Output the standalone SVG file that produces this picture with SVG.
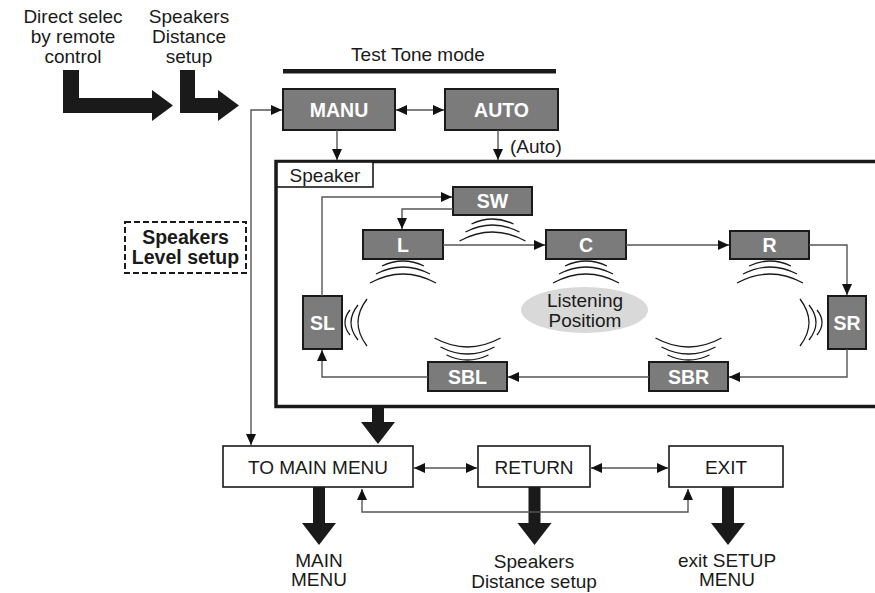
<svg xmlns="http://www.w3.org/2000/svg" width="875" height="593" viewBox="0 0 875 593">
<defs>
<marker id="ah" markerUnits="userSpaceOnUse" markerWidth="12" markerHeight="12" viewBox="0 0 12 12" refX="11" refY="6" orient="auto-start-reverse">
<path d="M0,1 L11,6 L0,11 Z" fill="#111"/>
</marker>
<style>
text{font-family:"Liberation Sans",Arial,sans-serif;fill:#1a1a1a}
.t{font-size:19px;text-anchor:middle}
.b{font-size:19.5px;font-weight:bold;text-anchor:middle}
.w{fill:#fff}
.g{fill:#7b7b7b;stroke:#1a1a1a;stroke-width:2}
.box{fill:#fff;stroke:#1a1a1a;stroke-width:1.6}
.ln{fill:none;stroke:#555;stroke-width:1.4}
.wv{fill:none;stroke:#1a1a1a;stroke-width:1.3}
.thick{fill:#1a1a1a}
</style>
</defs>

<!-- top labels -->
<g id="direct-select">
<text class="t" x="73" y="23">Direct selec</text>
<text class="t" x="73" y="43">by remote</text>
<text class="t" x="73" y="63">control</text>
</g>
<g id="speakers-distance-top">
<text class="t" x="189" y="23">Speakers</text>
<text class="t" x="189" y="43">Distance</text>
<text class="t" x="189" y="63">setup</text>
</g>
<g id="test-tone-mode">
<text class="t" x="418" y="61">Test Tone mode</text>
<rect x="283" y="69" width="273" height="4.5" fill="#1a1a1a"/>
</g>

<g id="manu"><rect class="g" x="283" y="89" width="112" height="41"/><text class="b w" x="339" y="116.5">MANU</text></g>
<g id="auto"><rect class="g" x="445" y="89" width="113" height="41"/><text class="b w" x="501.5" y="116.5">AUTO</text></g>
<g id="auto-label"><text style="font-size:19px" x="510" y="153">(Auto)</text></g>

<g id="speaker-frame">
<rect x="276" y="161.5" width="620" height="245" fill="none" stroke="#1a1a1a" stroke-width="3.5"/>
<rect class="box" x="277" y="162" width="96" height="25"/>
<text style="font-size:19px" x="325" y="182" text-anchor="middle">Speaker</text>
</g>

<g id="sw"><rect class="g" x="453" y="187" width="79" height="28"/><text class="b w" x="492.5" y="208">SW</text></g>
<g id="l"><rect class="g" x="363" y="230" width="80" height="29"/><text class="b w" x="403" y="251.5">L</text></g>
<g id="c"><rect class="g" x="546" y="230" width="80" height="29"/><text class="b w" x="586" y="251.5">C</text></g>
<g id="r"><rect class="g" x="730" y="231" width="79" height="28"/><text class="b w" x="769.5" y="251.5">R</text></g>
<g id="sl"><rect class="g" x="303" y="296" width="39" height="53"/><text class="b w" x="322.5" y="329.5">SL</text></g>
<g id="sr"><rect class="g" x="828" y="296" width="38" height="53"/><text class="b w" x="847" y="329.5">SR</text></g>
<g id="sbl"><rect class="g" x="428" y="362" width="79" height="29"/><text class="b w" x="467.5" y="383.5">SBL</text></g>
<g id="sbr"><rect class="g" x="649" y="362" width="79" height="29"/><text class="b w" x="688.5" y="383.5">SBR</text></g>

<g id="listening-position">
<ellipse cx="584.5" cy="310" rx="63.5" ry="23" fill="#d9d9d9"/>
<text class="t" x="585" y="307">Listening</text>
<text class="t" x="585" y="327">Positiom</text>
</g>

<g id="waves">
<!-- under SW -->
<path class="wv" d="M471.5,224 Q492.5,214 513.5,224 M465.5,232 Q492.5,218 519.5,232 M459.5,241 Q492.5,223 525.5,241"/>
<!-- under L -->
<path class="wv" d="M382,266 Q403,256 424,266 M376,274 Q403,260 430,274 M370,283 Q403,265 436,283"/>
<!-- under C -->
<path class="wv" d="M565,266 Q586,256 607,266 M559,274 Q586,260 613,274 M553,283 Q586,265 619,283"/>
<!-- under R -->
<path class="wv" d="M749,266 Q770,256 791,266 M743,274 Q770,260 797,274 M737,283 Q770,265 803,283"/>
<!-- above SBL -->
<path class="wv" d="M446.5,355 Q467.5,365 488.5,355 M440.5,347 Q467.5,361 494.5,347 M434.5,338 Q467.5,356 500.5,338"/>
<!-- above SBR -->
<path class="wv" d="M667.5,355 Q688.5,365 709.5,355 M661.5,347 Q688.5,361 715.5,347 M655.5,338 Q688.5,356 721.5,338"/>
<!-- right of SL -->
<path class="wv" d="M350,310 Q340,322.5 350,335 M358,305 Q344,322.5 358,340 M367,299 Q349,322.5 367,346"/>
<!-- left of SR -->
<path class="wv" d="M817,310 Q827,322.5 817,335 M809,305 Q823,322.5 809,340 M800,299 Q818,322.5 800,346"/>
</g>

<g id="speakers-level-setup">
<rect x="125" y="222" width="121" height="51" fill="none" stroke="#1a1a1a" stroke-width="2" stroke-dasharray="6,3"/>
<text class="b" x="185.5" y="244">Speakers</text>
<text class="b" x="185.5" y="264">Level setup</text>
</g>

<g id="to-main-menu"><rect class="box" x="223" y="446" width="190" height="41"/><text class="t" x="318" y="474">TO MAIN MENU</text></g>
<g id="return"><rect class="box" x="478" y="446" width="112" height="41"/><text class="t" x="534" y="474">RETURN</text></g>
<g id="exit"><rect class="box" x="669" y="446" width="114" height="41"/><text class="t" x="726" y="474">EXIT</text></g>

<g id="main-menu-label"><text class="t" x="319" y="567">MAIN</text><text class="t" x="319" y="586">MENU</text></g>
<g id="speakers-distance-bottom"><text class="t" x="534" y="568">Speakers</text><text class="t" x="534" y="588">Distance setup</text></g>
<g id="exit-setup-label"><text class="t" x="727" y="567">exit SETUP</text><text class="t" x="727" y="586">MENU</text></g>

<g id="connectors">
<!-- thick arrows -->
<path class="thick" d="M63,70 H79 V98 H152 V90 L173,105.5 L152,121 V113 H63 Z"/>
<path class="thick" d="M180,70 H195 V98 H218 V90 L239,105.5 L218,121 V113 H180 Z"/>
<path class="thick" d="M372,408 H384 V422 H395 L378,444 L361,422 H372 Z"/>
<path class="thick" d="M313,487 H325 V523 H336 L319,545 L302,523 H313 Z"/>
<path class="thick" d="M528.5,487 H540.5 V523 H551.5 L534.5,545 L517.5,523 H528.5 Z"/>
<path class="thick" d="M722,487 H734 V523 H745 L728,545 L711,523 H722 Z"/>
<!-- thin connectors -->
<path class="ln" d="M396,110 H444" marker-start="url(#ah)" marker-end="url(#ah)"/>
<path class="ln" d="M337,130 V160" marker-end="url(#ah)"/>
<path class="ln" d="M498,130 V160" marker-end="url(#ah)"/>
<path class="ln" d="M282,110 H251 V445" marker-start="url(#ah)" marker-end="url(#ah)"/>
<path class="ln" d="M322,296 V197 H452" marker-end="url(#ah)"/>
<path class="ln" d="M453,209 H402 V229" marker-end="url(#ah)"/>
<path class="ln" d="M443,245 H545" marker-end="url(#ah)"/>
<path class="ln" d="M626,245 H729" marker-end="url(#ah)"/>
<path class="ln" d="M809,245 H847 V295" marker-end="url(#ah)"/>
<path class="ln" d="M847,349 V377 H729" marker-end="url(#ah)"/>
<path class="ln" d="M649,377 H508" marker-end="url(#ah)"/>
<path class="ln" d="M428,377 H322 V350" marker-end="url(#ah)"/>
<path class="ln" d="M414,468 H477" marker-start="url(#ah)" marker-end="url(#ah)"/>
<path class="ln" d="M591,468 H668" marker-start="url(#ah)" marker-end="url(#ah)"/>
<path class="ln" d="M362,489 V512 H688 V489" marker-start="url(#ah)" marker-end="url(#ah)"/>
</g>
</svg>
